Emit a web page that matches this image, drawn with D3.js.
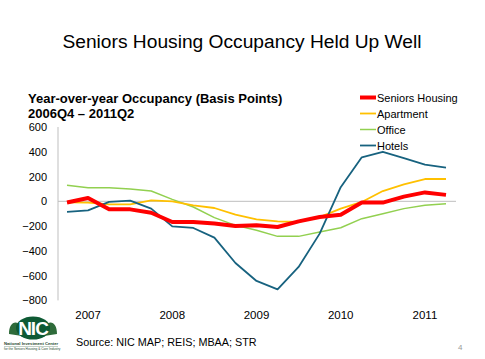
<!DOCTYPE html>
<html><head><meta charset="utf-8">
<script src="https://cdn.jsdelivr.net/npm/d3@7"></script>
<style>body{margin:0;background:#fff;} svg{display:block;font-family:"Liberation Sans",Arial,sans-serif;}</style>
</head><body>
<script>
const quarters = ["2006Q4","2007Q1","2007Q2","2007Q3","2007Q4","2008Q1","2008Q2","2008Q3","2008Q4","2009Q1","2009Q2","2009Q3","2009Q4","2010Q1","2010Q2","2010Q3","2010Q4","2011Q1","2011Q2"];
const seniorsHousing = [-10,27,-65,-65,-92,-167,-167,-180,-200,-194,-207,-162,-127,-108,-10,-10,38,72,52];
const apartment = [-8,-11,-24,-24,8,0,-32,-54,-108,-145,-162,-167,-127,-59,-5,83,137,180,180];
const office = [130,110,110,100,83,16,-46,-132,-194,-234,-283,-283,-248,-213,-140,-100,-59,-32,-19];
const hotels = [-86,-73,-5,5,-59,-202,-215,-293,-498,-643,-711,-530,-261,114,355,400,349,297,272];
const yTicks = [600,400,200,0,-200,-400,-600,-800];
const yearLabels = [{q:"2007Q1",t:"2007"},{q:"2008Q1",t:"2008"},{q:"2009Q1",t:"2009"},{q:"2010Q1",t:"2010"},{q:"2011Q1",t:"2011"}];
const series = [
  {name:"Seniors Housing", values: seniorsHousing, color:"#ff0000", width:4},
  {name:"Apartment", values: apartment, color:"#ffc000", width:1.8},
  {name:"Office", values: office, color:"#92d050", width:1.5},
  {name:"Hotels", values: hotels, color:"#17627f", width:1.8}
];
const W=485,H=359;
const svg=d3.select("body").append("svg").attr("width",W).attr("height",H);
svg.append("text").attr("x",242).attr("y",48).attr("text-anchor","middle").attr("font-size",19.2).attr("fill","#000").text("Seniors Housing Occupancy Held Up Well");
svg.append("text").attr("x",28).attr("y",103).attr("font-size",13).attr("font-weight","bold").text("Year-over-year Occupancy (Basis Points)");
svg.append("text").attr("x",28).attr("y",118).attr("font-size",13).attr("font-weight","bold").text("2006Q4 – 2011Q2");

const x=d3.scalePoint().domain(quarters).range([67,446]);
const y=d3.scaleLinear().domain([-800,600]).range([300.4,127]);

const ya=svg.append("g").attr("transform","translate(58,0)").call(d3.axisLeft(y).tickValues(yTicks).tickSize(0).tickPadding(11).tickFormat(d3.format("d")));
ya.select(".domain").attr("stroke","#bfbfbf").attr("d",`M0,${y(600)}V${y(-800)}`);
ya.selectAll("text").attr("font-size",11).attr("fill","#000").style("font-family","Liberation Sans, Arial, sans-serif");
svg.append("line").attr("x1",58).attr("x2",456).attr("y1",y(0)).attr("y2",y(0)).attr("stroke","#bfbfbf").attr("stroke-width",1);
svg.selectAll(".xl").data(yearLabels).enter().append("text").attr("x",d=>x(d.q)).attr("y",319).attr("text-anchor","middle").attr("font-size",11.5).text(d=>d.t);

const line=d3.line().x((d,i)=>x(quarters[i])).y(d=>y(d));
const order=[series[2],series[1],series[3],series[0]];
order.forEach(s=>{
  svg.append("path").attr("d",line(s.values)).attr("fill","none").attr("stroke",s.color).attr("stroke-width",s.width).attr("stroke-linejoin","round");
});
series.forEach((s,i)=>{
  const ly=97.5+i*16;
  svg.append("line").attr("x1",360).attr("x2",376).attr("y1",ly).attr("y2",ly).attr("stroke",s.color).attr("stroke-width",s.width);
  svg.append("text").attr("x",377).attr("y",ly+4).attr("font-size",11).text(s.name);
});
svg.append("text").attr("x",76).attr("y",346).attr("font-size",10.8).text("Source: NIC MAP; REIS; MBAA; STR");
svg.append("text").attr("x",458).attr("y",350).attr("font-size",8).attr("fill","#999").text("4");
const lg=svg.append("g");
lg.append("path").attr("d","M9,334 C9,325 13,321 18,323 C16,328 18,333 22,336 Z").attr("fill","#2e6b3a");
lg.append("path").attr("d","M57,334 C57,325 53,321 48,323 C50,328 48,333 44,336 Z").attr("fill","#2e6b3a");
lg.append("ellipse").attr("cx",33).attr("cy",328).attr("rx",17).attr("ry",11.5).attr("fill","#0e5a34");
lg.append("text").attr("x",33).attr("y",335).attr("text-anchor","middle").attr("font-size",19).attr("font-weight","bold").attr("fill","#fff").attr("letter-spacing",-1).text("NIC");
lg.append("text").attr("x",4).attr("y",345).attr("font-size",4.2).attr("font-weight","bold").attr("fill","#1f4a2e").text("National Investment Center");
lg.append("text").attr("x",4).attr("y",350).attr("font-size",3.2).attr("fill","#1f4a2e").text("for the Seniors Housing & Care Industry");
lg.append("line").attr("x1",4).attr("x2",58).attr("y1",346.5).attr("y2",346.5).attr("stroke","#6a8a70").attr("stroke-width",0.4);
</script>
</body></html>
